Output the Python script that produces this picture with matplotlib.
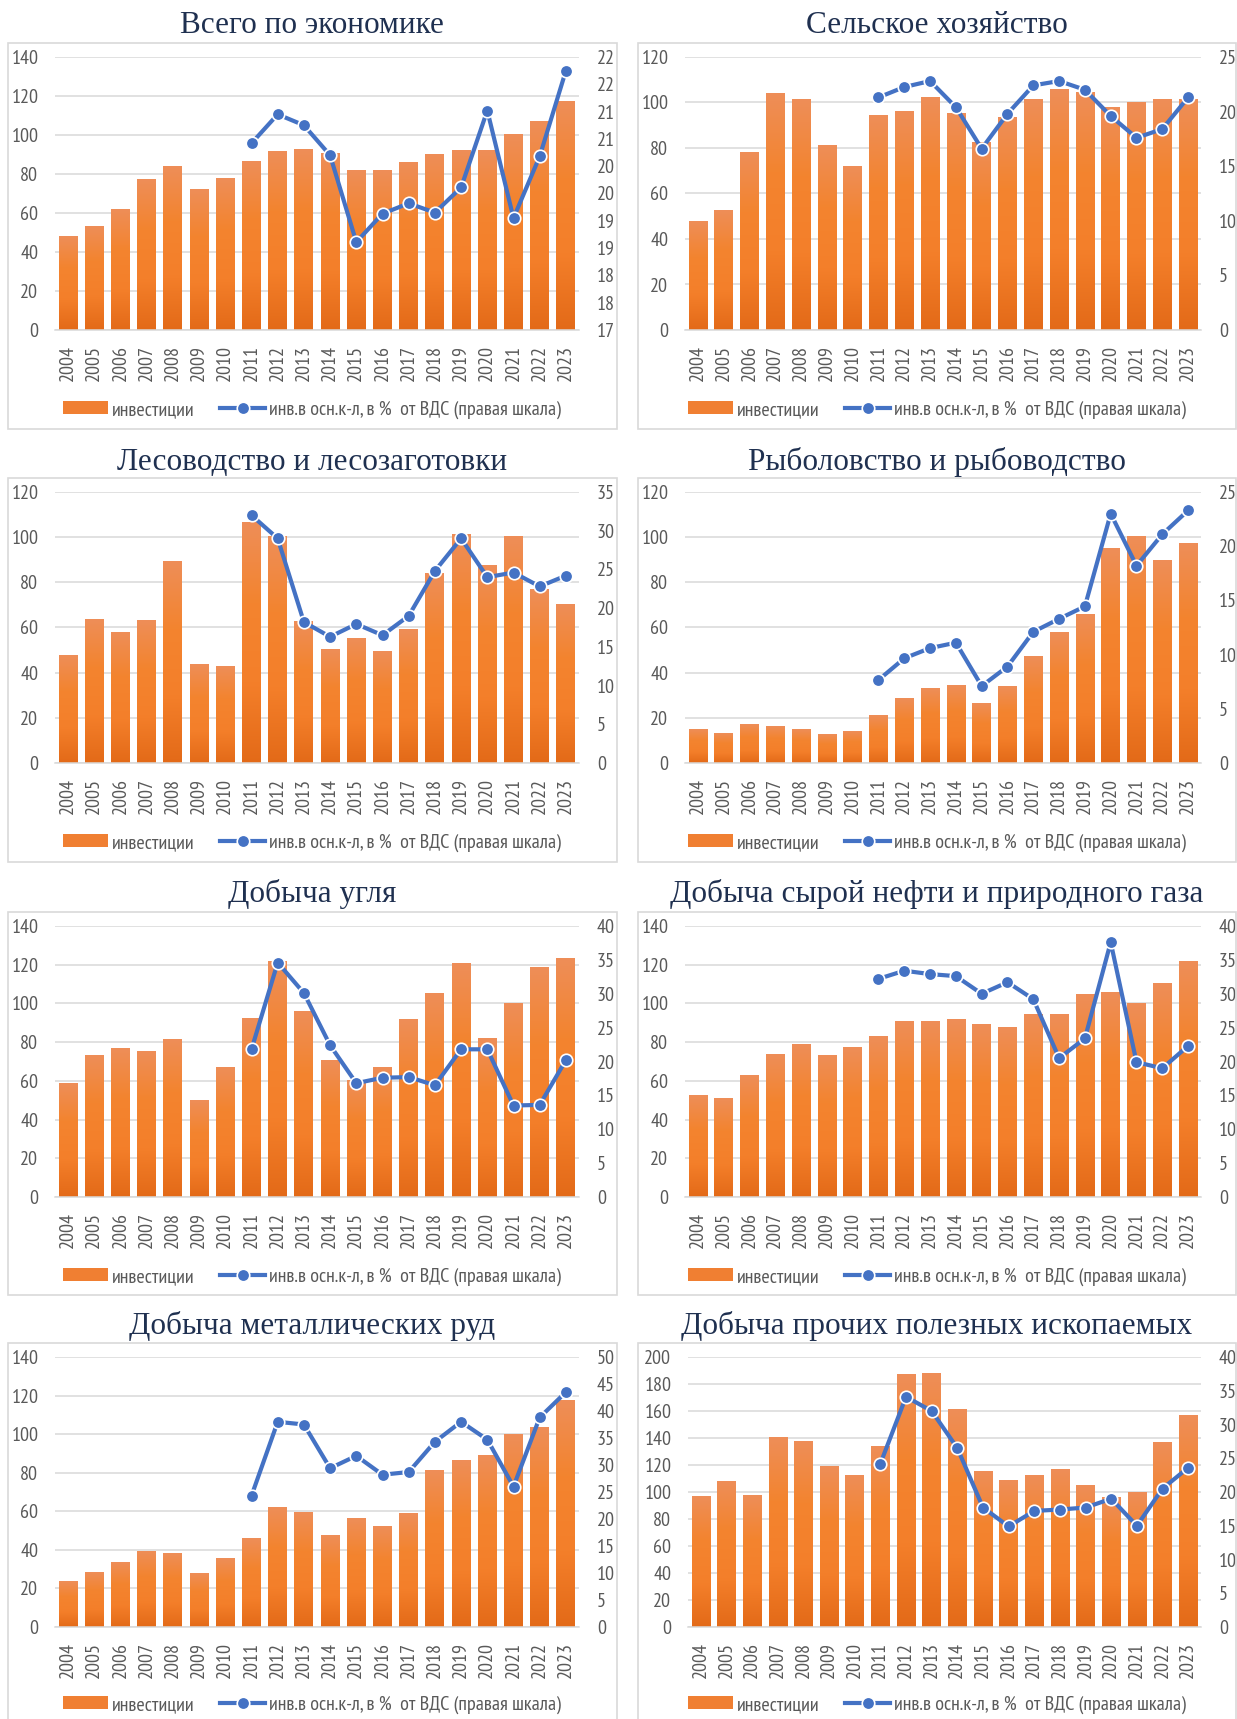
import matplotlib
matplotlib.use("Agg")
import matplotlib.pyplot as plt
import numpy as np
from matplotlib import font_manager
from matplotlib.colors import LinearSegmentedColormap
from matplotlib.patches import Patch, Rectangle
from matplotlib.lines import Line2D
from matplotlib.ticker import FuncFormatter

nan = np.nan

years = [str(y) for y in range(2004, 2024)]

titles = ["Всего по экономике", "Сельское хозяйство",
          "Лесоводство и лесозаготовки", "Рыболовство и рыбоводство",
          "Добыча угля", "Добыча сырой нефти и природного газа",
          "Добыча металлических руд", "Добыча прочих полезных ископаемых"]

# инвестиции (bars, left axis)
inv_total = [48, 53, 62, 77, 84, 72, 77.5, 86.3, 91.4, 92.4, 90.7, 81.6, 81.6, 85.7, 89.9, 91.9, 91.9, 100, 106.8, 117]
inv_agri = [47.7, 52.7, 78.2, 104, 101.5, 81.3, 71.9, 94.2, 95.9, 102, 95.1, 82.4, 93.6, 101.2, 105.6, 104.2, 97.7, 99.8, 101.5, 101.5]
inv_forest = [47.7, 63.6, 57.9, 63.2, 89.3, 43.8, 42.7, 106.7, 100.4, 62.7, 50.3, 55.2, 49.4, 59.2, 84, 101.3, 87.5, 100.4, 76.9, 70.3]
inv_fish = [14.9, 13.1, 17.1, 16.2, 14.9, 12.7, 14, 21.1, 28.6, 33.1, 34.4, 26.4, 33.9, 47.2, 57.9, 65.8, 95.1, 100.4, 89.7, 97.3]
inv_coal = [58.4, 72.9, 76.6, 75, 81.4, 49.6, 67.1, 92.3, 121.7, 95.7, 70.3, 60.1, 66.7, 91.6, 105.1, 120.5, 81.7, 99.9, 118.6, 123.2]
inv_oil = [52.2, 50.7, 63, 73.6, 78.6, 73.1, 77, 82.7, 90.7, 90.7, 91.7, 89.2, 87.8, 94.3, 94.3, 104.6, 105.6, 100, 110.2, 121.9]
inv_metal = [23.7, 28.3, 33.5, 39.2, 38.2, 27.8, 35.3, 46.1, 62, 59.5, 47.5, 56.3, 52.2, 58.9, 81.2, 86.4, 89, 99.9, 103.5, 117.5]
inv_other = [97, 107.7, 97.5, 140.2, 137.3, 119, 111.9, 133.8, 186.9, 187.7, 161.2, 115.3, 108.4, 111.9, 116.8, 104.9, 96, 99.8, 136.5, 156.5]

# инв. в осн. к-л, в % от ВДС (line, right axis)
sh_total = [nan]*7 + [20.42, 20.95, 20.75, 20.2, 18.61, 19.13, 19.32, 19.15, 19.61, 21.02, 19.05, 20.18, 21.75]
sh_agri = [nan]*7 + [21.3, 22.25, 22.8, 20.4, 16.6, 19.8, 22.4, 22.8, 22.0, 19.6, 17.6, 18.4, 21.3]
sh_forest = [nan]*7 + [32.0, 29.0, 18.2, 16.3, 17.95, 16.5, 19.0, 24.8, 29.0, 24.0, 24.6, 22.8, 24.2]
sh_fish = [nan]*7 + [7.66, 9.66, 10.6, 11.1, 7.1, 8.9, 12.1, 13.3, 14.45, 23.0, 18.2, 21.1, 23.3]
sh_coal = [nan]*7 + [21.8, 34.6, 30.1, 22.4, 16.8, 17.6, 17.7, 16.5, 21.8, 21.8, 13.5, 13.6, 20.2]
sh_oil = [nan]*7 + [32.2, 33.4, 32.9, 32.6, 30.0, 31.7, 29.2, 20.5, 23.4, 37.6, 19.9, 19.0, 22.3]
sh_metal = [nan]*7 + [24.3, 38.0, 37.5, 29.4, 31.7, 28.2, 28.7, 34.3, 38.0, 34.7, 26.0, 38.8, 43.5]
sh_other = [nan]*7 + [24.2, 34.1, 32.0, 26.5, 17.7, 14.9, 17.2, 17.4, 17.7, 19.0, 15.0, 20.5, 23.6]

invest = [inv_total, inv_agri, inv_forest, inv_fish, inv_coal, inv_oil, inv_metal, inv_other]
shares = [sh_total, sh_agri, sh_forest, sh_fish, sh_coal, sh_oil, sh_metal, sh_other]

left_lim = [(0, 140, 20), (0, 120, 20), (0, 120, 20), (0, 120, 20),
            (0, 140, 20), (0, 140, 20), (0, 140, 20), (0, 200, 20)]
right_lim = [(17, 22, 0.5), (0, 25, 5), (0, 35, 5), (0, 25, 5),
             (0, 40, 5), (0, 40, 5), (0, 50, 5), (0, 40, 5)]

# narrow font like Arial Narrow, take the first one that is installed
installed = {f.name for f in font_manager.fontManager.ttflist}
narrow = "Sofia Sans Condensed"
for name in ["Liberation Sans Narrow", "Arial Narrow", "PT Sans Narrow", "Roboto Condensed",
             "Fira Sans Condensed", "IBM Plex Sans Condensed", "Archivo Narrow",
             "Sofia Sans Condensed"]:
    if name in installed:
        narrow = name
        break

W, H = 1237, 1719
fig = plt.figure(figsize=(W / 100, H / 100), dpi=100)
fig.patch.set_facecolor("white")

tick_font = [narrow, "DejaVu Sans"]
title_font = ["Liberation Serif", "DejaVu Serif"]
gray = "#595959"
grid_c = "#D9D9D9"
blue = "#4472C4"
fs = 14.5

cmap = LinearSegmentedColormap.from_list("bar", ["#E36A18", "#F47F2A", "#F3842F", "#EE8E58"])
grad = np.linspace(0, 1, 256).reshape(-1, 1)

# (frame x0, x1), (plot x0, x1), center x for both columns
cols = [((8, 617), (55, 579), 312), ((638, 1236), (685, 1201), 937)]
# frame y0, y1, plot y0, y1, title baseline, legend center
rows = [(43, 429, 57, 330, 33, 410),
        (478, 862, 492, 763, 470, 843),
        (912, 1295, 926, 1197, 902, 1277),
        (1343, 1730, 1357, 1627, 1334, 1705)]


def frac(x0, y0, x1, y1):
    return [x0 / W, 1 - y1 / H, (x1 - x0) / W, (y1 - y0) / H]


def half_up(v, pos):
    return "%d" % int(np.floor(v + 0.5 + 1e-9))


for i in range(8):
    r, c = divmod(i, 2)
    (fx0, fx1), (px0, px1), cx = cols[c]
    fy0, fy1, py0, py1, ty, ly = rows[r]
    if i == 7:
        px0 = 688

    fig.add_artist(Rectangle((fx0 / W, 1 - fy1 / H), (fx1 - fx0) / W, (fy1 - fy0) / H,
                             transform=fig.transFigure, fill=False, ec=grid_c, lw=1.2))
    fig.text(cx / W, 1 - ty / H, titles[i], ha="center", va="baseline",
             fontsize=22.5, color="#1F3050", family=title_font)

    ax = fig.add_axes(frac(px0, py0, px1, py1))
    x = np.arange(len(years))
    bars = ax.bar(x, invest[i], width=0.72, color="none", zorder=2)
    for b in bars:
        ax.imshow(grad, extent=(b.get_x(), b.get_x() + b.get_width(), 0, b.get_height()),
                  origin="lower", aspect="auto", cmap=cmap, zorder=2)
    lo, hi, st = left_lim[i]
    ax.set_xlim(-0.5, len(years) - 0.5)
    ax.set_ylim(lo, hi)
    ax.set_yticks(np.arange(lo, hi + st / 2, st))
    ax.set_xticks(x)
    ax.set_xticklabels(years, rotation=90)
    ax.set_axisbelow(True)
    ax.grid(axis="y", color=grid_c, lw=1.1, zorder=0)
    for s in ["top", "left", "right"]:
        ax.spines[s].set_visible(False)
    ax.spines["bottom"].set_color(grid_c)
    ax.spines["bottom"].set_linewidth(1.1)
    ax.tick_params(axis="both", length=0, colors=gray, labelsize=fs)
    ax.tick_params(axis="y", pad=12)
    ax.tick_params(axis="x", pad=11)
    for lab in ax.get_xticklabels() + ax.get_yticklabels():
        lab.set_family(tick_font)

    ax2 = ax.twinx()
    ax2.plot(x, shares[i], color=blue, lw=3, marker="o", ms=9,
             mfc=blue, mec="white", mew=1.2, zorder=3)
    rlo, rhi, rst = right_lim[i]
    ax2.set_ylim(rlo, rhi)
    ax2.set_yticks(np.arange(rlo, rhi + rst / 2, rst))
    if i == 0:
        ax2.yaxis.set_major_formatter(FuncFormatter(half_up))
    for s in ax2.spines.values():
        s.set_visible(False)
    ax2.tick_params(axis="y", length=0, colors=gray, labelsize=fs, pad=13)
    for lab in ax2.get_yticklabels():
        lab.set_family(tick_font)

    handles = [Patch(facecolor="#F07F32", edgecolor="none"),
               Line2D([], [], color=blue, lw=3, marker="o", ms=9, mfc=blue, mec="white", mew=1.2)]
    labels = ["инвестиции", "инв.в осн.к-л, в %  от ВДС (правая шкала)"]
    leg = ax2.legend(handles, labels, loc="center", ncol=2, frameon=False,
                     bbox_to_anchor=(cx / W, 1 - ly / H), bbox_transform=fig.transFigure,
                     handlelength=2.2, handleheight=0.6, handletextpad=0.2,
                     columnspacing=1.3, borderaxespad=0, borderpad=0,
                     prop={"family": tick_font, "size": fs})
    for t in leg.get_texts():
        t.set_color(gray)

fig.savefig("out.png", dpi=100, facecolor="white")
